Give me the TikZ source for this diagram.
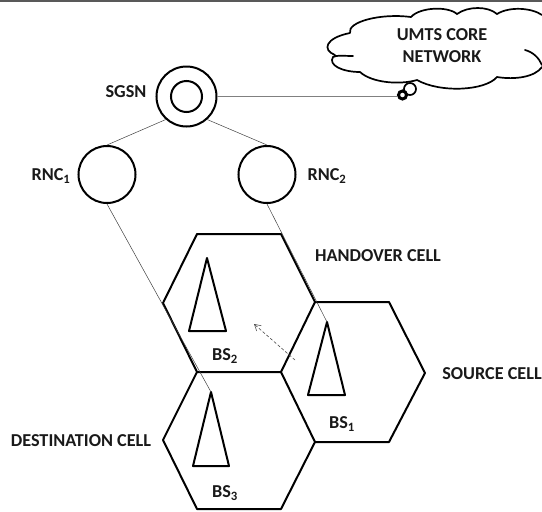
\documentclass[tikz,border=0pt]{standalone}
\usepackage{fontspec}
\setmainfont{Carlito}
\usetikzlibrary{arrows.meta}
\begin{document}
\begin{tikzpicture}[x=1pt,y=-1pt,
  hexline/.style={line width=2pt,line join=round},
  wire/.style={line width=0.5pt,black!75},
  station/.style={circle,draw,line width=2pt,inner sep=0pt},
  tag/.style={font=\fontsize{18.2}{22}\selectfont\bfseries,text=black!90,align=center,inner sep=0pt}]
  \useasboundingbox (0,0) rectangle (542,512);
  \draw[line width=2pt,black!65] (0,1) -- (542,1);

  % hexagons
  \draw[hexline] (197,234) -- (281,234) -- (315,302) -- (281,372) -- (197,372) -- (163,303) -- cycle;
  \draw[hexline] (315,302) -- (389,302) -- (425,373) -- (389,442) -- (315,442) -- (281,372);
  \draw[hexline] (197,372) -- (163,440) -- (197,509) -- (281,509) -- (315,442);

  % base stations
  \draw[hexline] (207,258) coordinate (top2) -- (189,331) -- (226,331) -- cycle;
  \draw[hexline] (327,322) coordinate (top1) -- (308,395) -- (345,395) -- cycle;
  \draw[hexline] (211,392) coordinate (top3) -- (193,466) -- (229,466) -- cycle;

  \node[station,minimum size=60pt] (sgsn) at (186.5,96.5) {};
  \node[station,minimum size=31pt] (sgsnin) at (186.5,96.5) {};
  \node[station,minimum size=57pt] (rnc1) at (107,174.5) {};
  \node[station,minimum size=57pt] (rnc2) at (267,174.5) {};

  % cloud
  \draw[line width=1.7pt,line cap=round]
    (350,33) .. controls (347,22) and (380,13) .. (411,17)
    .. controls (420,7) and (448,6) .. (457,14)
    .. controls (468,6) and (488,6) .. (497,14)
    .. controls (510,6) and (532,8) .. (542,15)
    (525,50) .. controls (533,52) and (539,58) .. (542,65)
    (542,67) .. controls (535,77) and (515,80) .. (497,77)
    .. controls (485,91) and (440,93) .. (417,80)
    .. controls (400,85) and (372,83) .. (360,72)
    .. controls (342,72) and (328,65) .. (333,57)
    .. controls (336,55) and (345,56) .. (353,56)
    (335,55) .. controls (322,50) and (325,38) .. (350,33);
  \node[tag] (core) at (442,46) {UMTS CORE\\NETWORK};
  \node[circle,draw,fill=white,line width=1.7pt,minimum size=12pt,inner sep=0pt] (bubble) at (410,89) {};
  \node[circle,draw,line width=3pt,minimum size=8pt,inner sep=0pt] (dot) at (402.5,95) {};

  \draw[wire] (sgsn.-132) -- (rnc1.north);
  \draw[wire] (sgsn.-48) -- (rnc2.north);
  \draw[wire] (rnc1.south) -- (top3);
  \draw[wire] (rnc2.south) -- (top1);
  \draw[line width=1pt,black!50] (sgsn.east) -- (sgsn.east -| dot.west);

  \coordinate (movefrom) at (295,360);
  \coordinate (moveto) at (254,324);
  \draw[-{Straight Barb[length=6pt,width=7pt]},dash pattern=on 3pt off 2pt,line width=0.6pt,black!70] (movefrom) -- (moveto);

  \node[tag] (sgsnlab) at (126,91.5) {SGSN};
  \node[tag] (rnc1lab) at (51,176) {RNC\textsubscript{1}};
  \node[tag] (rnc2lab) at (327,176) {RNC\textsubscript{2}};
  \node[tag] (handover) at (378,256) {HANDOVER CELL};
  \node[tag] (source) at (492,374) {SOURCE CELL};
  \node[tag] (destination) at (81,441) {DESTINATION CELL};
  \node[tag] (bs2) at (225,356) {BS\textsubscript{2}};
  \node[tag] (bs1) at (342,424) {BS\textsubscript{1}};
  \node[tag] (bs3) at (225,493) {BS\textsubscript{3}};
\end{tikzpicture}
\end{document}
